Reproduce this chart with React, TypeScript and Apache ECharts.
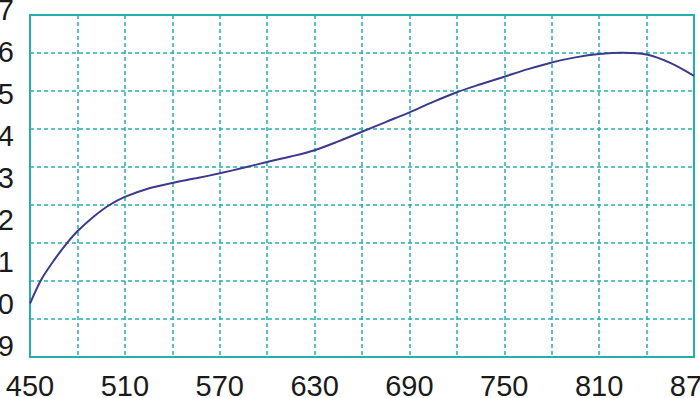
import React, { useEffect, useRef } from "react";
import * as echarts from "echarts";

// Data
const xMin = 450;
const xMax = 870;
const xGridStep = 30;
const xLabelStep = 60;
const yLabelMin = 9;
const yLabelMax = 17;
const yGridCount = 9;

const curveX = [450, 457, 465, 473, 480, 490, 500, 510, 525, 540, 555, 570, 585, 600, 615, 630, 645, 660, 675, 690, 705, 720, 735, 750, 765, 780, 795, 810, 825, 840, 855, 870];
const curveY = [10.0, 10.56, 11.02, 11.42, 11.72, 12.06, 12.34, 12.54, 12.74, 12.87, 12.98, 13.1, 13.23, 13.37, 13.5, 13.65, 13.86, 14.09, 14.32, 14.55, 14.8, 15.03, 15.22, 15.4, 15.58, 15.74, 15.86, 15.94, 15.97, 15.93, 15.73, 15.42];

const TEAL = "#27adad";
const CURVE = "#3a3a8e";
const TEXT = "#1a1a1a";
const FONT = "Liberation Sans, Arial, sans-serif";

export default function App() {
  const ref = useRef<HTMLDivElement>(null);
  useEffect(() => {
    if (!ref.current) return;
    const chart = echarts.init(ref.current, undefined, { renderer: "svg" });
    const data = curveX.map((x, i) => [x, curveY[i]]);
    chart.setOption({
      animation: false,
      backgroundColor: "#ffffff",
      grid: [
        { left: 30, right: 6, top: 9.5, height: 336, show: false, containLabel: false, outerBoundsMode: "none" },
        { left: 30, right: 6, top: 15, height: 342, show: true, borderColor: TEAL, borderWidth: 2, backgroundColor: "transparent", containLabel: false, outerBoundsMode: "none" },
      ],
      xAxis: [
        { gridIndex: 0, type: "value", min: xMin, max: xMax, show: false },
        {
          gridIndex: 1,
          type: "value",
          min: xMin,
          max: xMax,
          interval: xGridStep,
          axisLine: { show: false },
          axisTick: { show: false },
          splitLine: { show: true, lineStyle: { color: TEAL, width: 1.5, type: [4, 3] } },
          axisLabel: {
            show: true,
            margin: 14,
            fontSize: 29,
            fontFamily: FONT,
            color: TEXT,
            showMinLabel: true,
            showMaxLabel: true,
            hideOverlap: false,
            formatter: (v: number) => ((v - xMin) % xLabelStep === 0 ? String(v) : ""),
          },
        },
      ],
      yAxis: [
        {
          gridIndex: 0,
          type: "value",
          min: yLabelMin,
          max: yLabelMax,
          interval: 1,
          axisLine: { show: false },
          axisTick: { show: false },
          splitLine: { show: false },
          axisLabel: {
            show: true,
            margin: 16,
            fontSize: 29,
            fontFamily: FONT,
            color: TEXT,
            showMinLabel: true,
            showMaxLabel: true,
          },
        },
        {
          gridIndex: 1,
          type: "value",
          min: 0,
          max: yGridCount,
          interval: 1,
          axisLine: { show: false },
          axisTick: { show: false },
          axisLabel: { show: false },
          splitLine: { show: true, lineStyle: { color: TEAL, width: 1.5, type: [4, 3] } },
        },
      ],
      series: [
        {
          type: "line",
          xAxisIndex: 0,
          yAxisIndex: 0,
          data,
          smooth: 0.3,
          showSymbol: false,
          clip: false,
          z: 10,
          lineStyle: { color: CURVE, width: 2 },
        },
      ],
    });
    return () => chart.dispose();
  }, []);
  return (
    <div
      ref={ref}
      style={{ position: "fixed", left: 0, top: 0, width: 700, height: 398, background: "#fff" }}
    />
  );
}
